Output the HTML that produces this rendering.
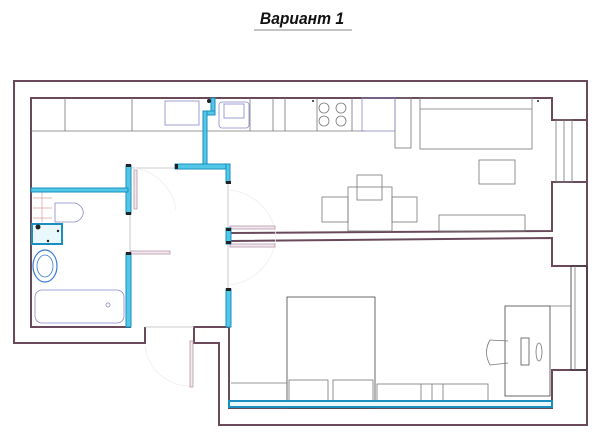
<!DOCTYPE html>
<html><head><meta charset="utf-8"><style>
html,body{margin:0;padding:0;background:#fff;width:600px;height:441px;overflow:hidden}
svg{display:block}
</style></head><body>
<svg width="600" height="441" viewBox="0 0 600 441" xmlns="http://www.w3.org/2000/svg">
<text x="302" y="24" text-anchor="middle" font-family="Liberation Sans, sans-serif" font-size="17" font-weight="bold" font-style="italic" fill="#111" transform="translate(302,0) scale(0.92,1) translate(-302,0)">Вариант 1</text>
<line x1="254" y1="30" x2="352" y2="30" stroke="#888" stroke-width="1"/>
<g fill="none" stroke="#6a4a5a" stroke-width="2">
<path d="M145,327 L145,343 L14,343 L14,81 L587,81 L587,425 L219,425 L219,343 L194,343 L194,327 L228,327"/>
<path d="M131,327 L31,327 L31,98 L552,98 L552,120 L587,120"/>
<path d="M587,182 L552,182 L552,231 L230,233"/>
<path d="M230,241 L552,238 L552,266 L587,266"/>
<path d="M587,370 L552,370 L552,408 L229,408 L229,327"/>
</g>
<g fill="none" stroke="#777" stroke-width="0.8">
<rect x="556" y="120" width="16" height="62"/><line x1="564" y1="120" x2="564" y2="182"/>
<rect x="571" y="266" width="16" height="104" stroke="#333"/><line x1="575" y1="266" x2="575" y2="370"/>
<line x1="31" y1="131" x2="365" y2="131"/>
<line x1="65" y1="98" x2="65" y2="131"/><line x1="132" y1="98" x2="132" y2="131"/>
<line x1="250" y1="98" x2="250" y2="131"/><line x1="273" y1="98" x2="273" y2="131"/><line x1="285" y1="98" x2="285" y2="131"/>
<line x1="317" y1="98" x2="317" y2="131"/><line x1="352" y1="98" x2="352" y2="131"/>
<rect x="395" y="98" width="16" height="50"/>
<rect x="420" y="98" width="112" height="51"/><line x1="420" y1="109" x2="532" y2="109"/>
<rect x="479" y="160" width="36" height="24"/>
<rect x="348" y="187" width="44" height="44"/>
<rect x="357" y="175" width="25" height="25"/>
<rect x="322" y="197" width="26" height="25"/><rect x="392" y="197" width="25" height="25"/>
<rect x="439" y="215" width="86" height="16"/>
<circle cx="324" cy="108" r="5"/><circle cx="341" cy="108" r="5"/><circle cx="324" cy="121" r="5"/><circle cx="341" cy="121" r="5"/>
<rect x="287" y="297" width="88" height="111" stroke="#444"/>
<rect x="289" y="380" width="39" height="25"/><rect x="333" y="380" width="40" height="25"/>
<line x1="231" y1="383" x2="287" y2="383"/>
<rect x="377" y="384" width="111" height="17"/>
<line x1="421" y1="384" x2="421" y2="401"/><line x1="432" y1="384" x2="432" y2="401"/><line x1="443" y1="384" x2="443" y2="401"/>
<rect x="505" y="306" width="45" height="90" stroke="#444"/>
<line x1="550" y1="306" x2="571" y2="306"/>
<path d="M490,340 Q483,352 490,365 M490,340 L508,341 M490,365 L508,363" />
<rect x="521" y="338" width="8" height="27" stroke="#555"/>
<ellipse cx="539" cy="352" rx="3" ry="9"/>
<line x1="130" y1="168" x2="226" y2="168" stroke="#bbb"/>
<line x1="130" y1="214" x2="130" y2="253" stroke="#bbb"/>
<line x1="228" y1="183" x2="228" y2="289" stroke="#bbb"/>
<line x1="145" y1="327" x2="194" y2="327" stroke="#bbb"/>
<path d="M135,168 A50,50 0 0 1 176,210" stroke="#eee"/>
<path d="M228,190 A52,52 0 0 1 276,235 A52,52 0 0 1 228,285" stroke="#eee"/>
<path d="M145,345 A45,45 0 0 0 192,386" stroke="#eee"/>
</g>
<g fill="#f3e6ee" stroke="#b59aa8" stroke-width="0.8">
<rect x="134" y="170" width="3" height="39"/>
<rect x="131" y="251" width="39" height="3"/>
<rect x="230" y="226" width="45" height="3"/>
<rect x="230" y="244" width="45" height="3"/>
<rect x="190" y="341" width="3" height="46"/>
</g>
<g fill="none" stroke="#8888cc" stroke-width="0.8">
<rect x="165" y="101" width="34" height="24"/>
<rect x="219" y="102" width="30" height="26" rx="3"/>
<rect x="224" y="104" width="20" height="14"/>
<rect x="362" y="98" width="33" height="33"/>
<path d="M55,203 L75,203 A12,10 0 0 1 75,222 L55,222 Z"/>
<rect x="35" y="290" width="89" height="33" rx="7"/>
<circle cx="108" cy="305" r="2"/>
<ellipse cx="45" cy="266" rx="12" ry="16" stroke="#3a7bd5" stroke-width="1.2"/>
<ellipse cx="45" cy="266" rx="8" ry="11" stroke="#3a7bd5"/>
</g>
<g fill="none" stroke="#d9a0a0" stroke-width="0.7">
<line x1="33" y1="198" x2="52" y2="198"/><line x1="33" y1="208" x2="52" y2="208"/><line x1="33" y1="218" x2="52" y2="218"/>
<line x1="42" y1="192" x2="42" y2="222"/>
</g>
<g fill="#52c8e8" stroke="#1b8fbf" stroke-width="1">
<rect x="211" y="98" width="4" height="15"/>
<rect x="203" y="111" width="12" height="4"/>
<rect x="203" y="111" width="4" height="56"/>
<rect x="175" y="164" width="55" height="5"/>
<rect x="226" y="164" width="4" height="19"/>
<rect x="126" y="165" width="5" height="49"/>
<rect x="31" y="188" width="97" height="4"/>
<rect x="126" y="253" width="5" height="74"/>
<rect x="226" y="228" width="5" height="16"/>
<rect x="226" y="289" width="5" height="38"/>
<rect x="229" y="401" width="323" height="6" fill="#e8f8fc" stroke-width="2"/>
<rect x="32" y="224" width="30" height="20" fill="#e8f8fc" stroke-width="2"/>
</g>
<g fill="#222">
<rect x="126" y="164" width="5" height="3"/><rect x="126" y="212" width="5" height="3"/>
<rect x="175" y="164" width="3" height="5"/><rect x="226" y="181" width="5" height="3"/>
<rect x="126" y="252" width="5" height="3"/><rect x="226" y="288" width="5" height="3"/>
<rect x="226" y="228" width="5" height="3"/><rect x="226" y="241" width="5" height="3"/>
<circle cx="209" cy="101" r="2"/><circle cx="38" cy="227" r="2.5"/>
<circle cx="58" cy="231" r="1.2"/><circle cx="48" cy="241" r="1.2"/>
<circle cx="313" cy="101" r="1"/><circle cx="538" cy="101" r="1"/>
</g>
</svg>
</body></html>
